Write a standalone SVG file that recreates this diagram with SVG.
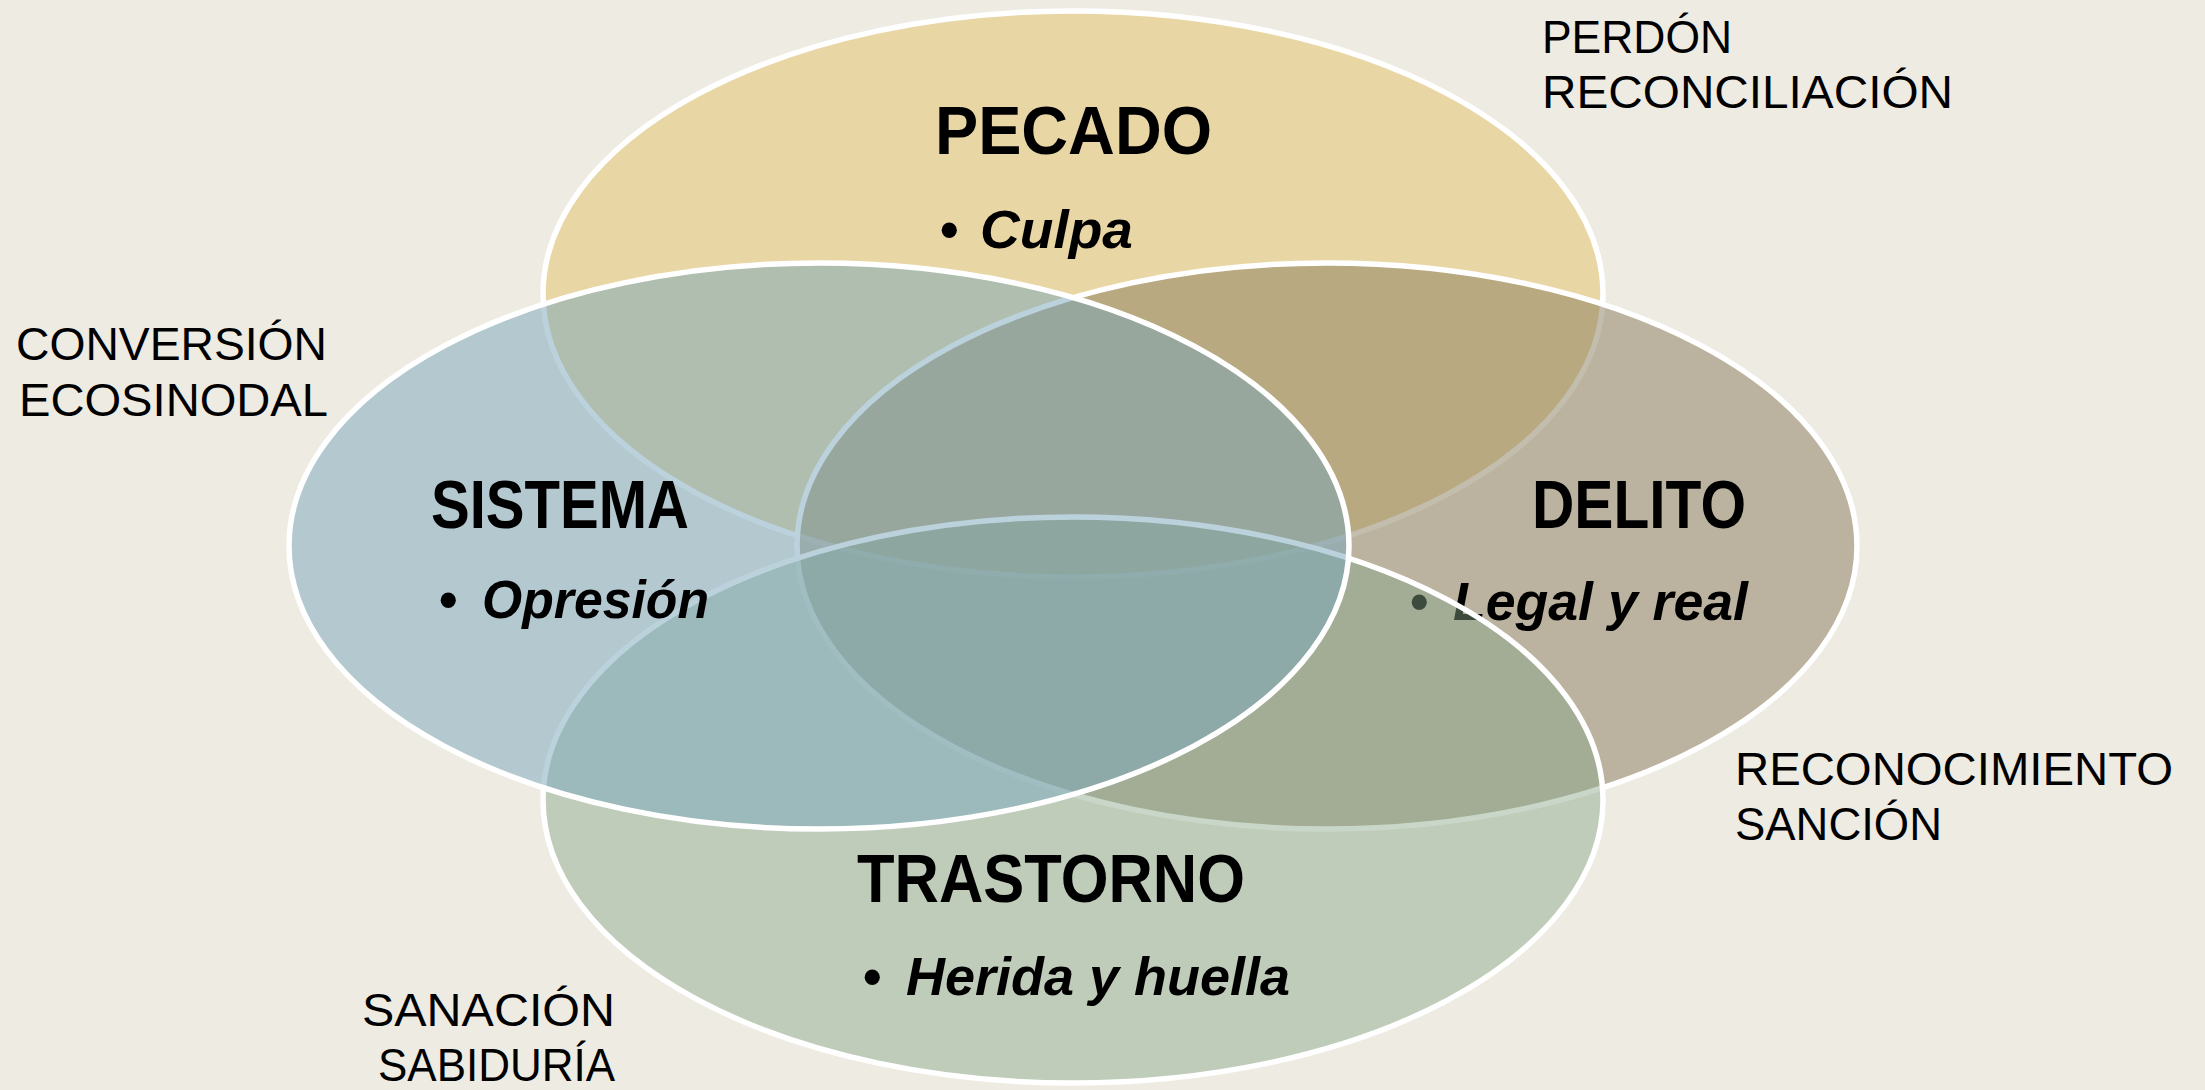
<svg xmlns="http://www.w3.org/2000/svg" width="2205" height="1090" viewBox="0 0 2205 1090">
<style>
.ell{stroke:#FFFFFF;stroke-width:5.5}
.head{font-family:"Liberation Sans",Arial,sans-serif;font-weight:bold;font-size:68px;fill:#000}
.item{font-family:"Liberation Sans",Arial,sans-serif;font-weight:bold;font-size:53px;fill:#000}
.item .w{font-style:italic}
.lbl{font-family:"Liberation Sans",Arial,sans-serif;font-size:47px;fill:#000}
</style>
<rect x="0" y="0" width="2205" height="1090" fill="#EEEBE3"/>
<g id="node-pecado">
<ellipse class="ell" cx="1073" cy="294" rx="530" ry="283" fill="#E9D6A5"/>
<text class="head" x="935" y="154" textLength="277" lengthAdjust="spacingAndGlyphs">PECADO</text>
<text class="item" y="248"><tspan x="940">•</tspan><tspan class="w" x="980" textLength="153" lengthAdjust="spacingAndGlyphs">Culpa</tspan></text>
</g>
<g id="node-delito">
<ellipse class="ell" cx="1327" cy="546" rx="530" ry="283" fill="#887B5D" fill-opacity="0.5"/>
<text class="head" x="1532" y="528" textLength="214" lengthAdjust="spacingAndGlyphs">DELITO</text>
<text class="item" y="620"><tspan x="1410">•</tspan><tspan class="w" x="1453" textLength="295" lengthAdjust="spacingAndGlyphs">Legal y real</tspan></text>
</g>
<g id="node-trastorno">
<ellipse class="ell" cx="1073" cy="800" rx="530" ry="283" fill="#88A688" fill-opacity="0.45"/>
<text class="head" x="857" y="902" textLength="388" lengthAdjust="spacingAndGlyphs">TRASTORNO</text>
<text class="item" y="995"><tspan x="863">•</tspan><tspan class="w" x="906" textLength="384" lengthAdjust="spacingAndGlyphs">Herida y huella</tspan></text>
</g>
<g id="node-sistema">
<ellipse class="ell" cx="819" cy="546" rx="530" ry="283" fill="#78A5BB" fill-opacity="0.5"/>
<text class="head" x="431" y="528" textLength="258" lengthAdjust="spacingAndGlyphs">SISTEMA</text>
<text class="item" y="618"><tspan x="439">•</tspan><tspan class="w" x="482" textLength="227" lengthAdjust="spacingAndGlyphs">Opresión</tspan></text>
</g>
<g id="label-perdon">
<text class="lbl" x="1542" y="53" textLength="190" lengthAdjust="spacingAndGlyphs">PERDÓN</text>
<text class="lbl" x="1542" y="108" textLength="411" lengthAdjust="spacingAndGlyphs">RECONCILIACIÓN</text>
</g>
<g id="label-conversion">
<text class="lbl" x="16" y="360" textLength="311" lengthAdjust="spacingAndGlyphs">CONVERSIÓN</text>
<text class="lbl" x="19" y="416" textLength="309" lengthAdjust="spacingAndGlyphs">ECOSINODAL</text>
</g>
<g id="label-reconocimiento">
<text class="lbl" x="1735" y="785" textLength="438" lengthAdjust="spacingAndGlyphs">RECONOCIMIENTO</text>
<text class="lbl" x="1735" y="840" textLength="207" lengthAdjust="spacingAndGlyphs">SANCIÓN</text>
</g>
<g id="label-sanacion">
<text class="lbl" x="362" y="1026" textLength="253" lengthAdjust="spacingAndGlyphs">SANACIÓN</text>
<text class="lbl" x="378" y="1081" textLength="237" lengthAdjust="spacingAndGlyphs">SABIDURÍA</text>
</g>
</svg>
